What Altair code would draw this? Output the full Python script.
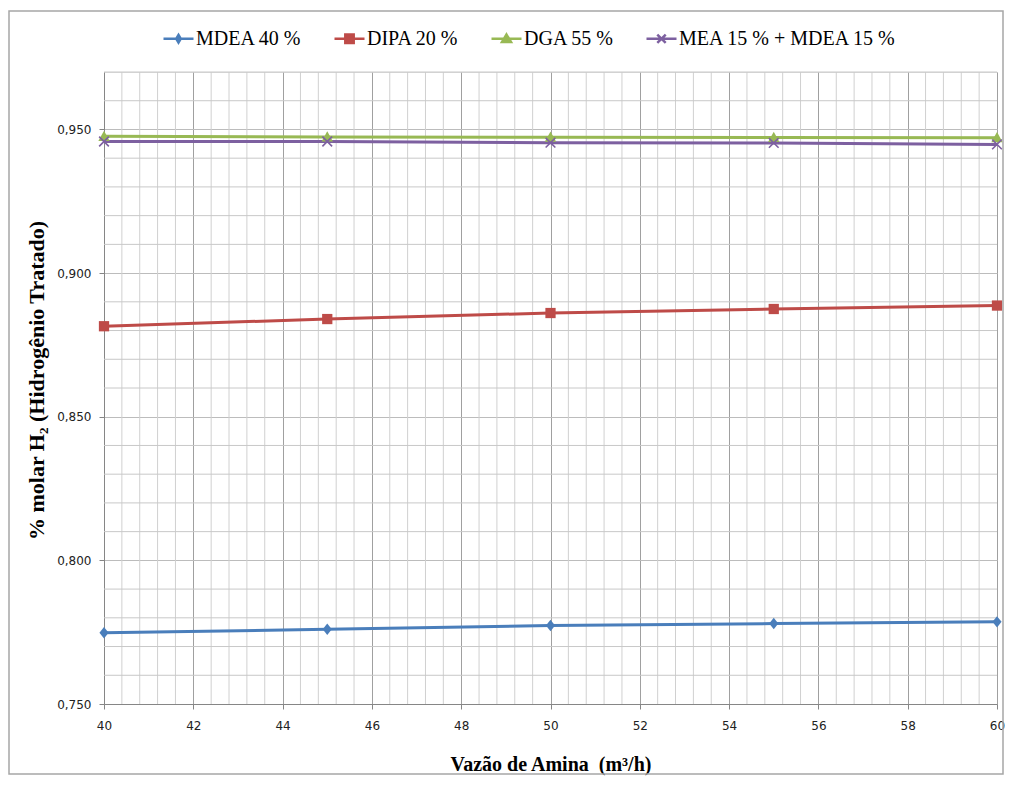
import altair as alt
import pandas as pd

# ---------------- data ----------------
x_vals = [40, 45, 50, 55, 60]
series = ["MDEA 40 %", "DIPA 20 %", "DGA 55 %", "MEA 15 % + MDEA 15 %"]
mdea = [0.7748, 0.7760, 0.7773, 0.7780, 0.7786]
dipa = [0.8815, 0.8840, 0.8861, 0.8875, 0.8887]
dga = [0.9476, 0.9474, 0.9473, 0.9472, 0.9471]
mea = [0.9458, 0.9458, 0.9454, 0.9453, 0.9448]
x_ticks = [40, 42, 44, 46, 48, 50, 52, 54, 56, 58, 60]
y_ticks = [0.75, 0.80, 0.85, 0.90, 0.95]
x_minor = [round(40 + 0.4 * i, 1) for i in range(51) if i % 5 != 0]
y_minor = [round(0.75 + 0.01 * i, 2) for i in range(23) if i % 5 != 0]

# ---------------- styles ----------------
colors = ["#4A7EBB", "#BE4B48", "#98B954", "#7D60A0"]
chart_paths = [
    "M0,-1L0.8,0L0,1L-0.8,0Z",
    "M-0.9,-0.9H0.9V0.9H-0.9Z",
    "M0,-1L1,0.8H-1Z",
    "M-0.85,-0.85L0.85,0.85M-0.85,0.85L0.85,-0.85",
]
legend_paths = [
    "M-1,0H1M0,-0.25L0.15,0L0,0.25L-0.15,0Z",
    "M-1,0H1M-0.28,-0.28H0.28V0.28H-0.28Z",
    "M-1,0H1M0,-0.28L0.3,0.22H-0.3Z",
    "M-1,0H1M-0.28,-0.28L0.28,0.28M-0.28,0.28L0.28,-0.28",
]
SERIF = "Liberation Serif, Times New Roman, serif"

rows = []
for name, vals in zip(series, [mdea, dipa, dga, mea]):
    for xv, yv in zip(x_vals, vals):
        rows.append({"serie": name, "x": xv, "y": yv})
df = pd.DataFrame(rows)

W, H = 893, 632
NB = "\u00a0"

x_axis = alt.Axis(
    values=x_ticks, title="Vazão de Amina" + NB + NB + "(m³/h)",
    titleFont=SERIF, titleFontSize=20, titleFontWeight="bold",
    titleColor="black", titleX=W / 2, titleY=60, titleBaseline="middle",
    titleAlign="center",
    labelFont="DejaVu Sans", labelFontSize=12, labelColor="#222222",
    labelPadding=11, tickSize=5, tickColor="#868686", domainColor="#868686",
    grid=True, gridColor="#a0a0a0", labelFlush=False,
)
y_axis = alt.Axis(
    values=y_ticks, labelExpr="replace(format(datum.value, '.3f'), '.', ',')",
    title="% molar H₂ (Hidrogênio Tratado)",
    titleFont=SERIF, titleFontSize=22, titleFontWeight="bold",
    titleColor="black", titleX=-68, titleY=H / 2 - 8, titleAngle=-90,
    titleBaseline="middle", titleAlign="center",
    labelFont="DejaVu Sans", labelFontSize=12, labelColor="#222222",
    labelPadding=8, tickSize=5, tickColor="#868686", domainColor="#868686",
    grid=True, gridColor="#bcbcbc",
)

X = alt.X("x:Q", scale=alt.Scale(domain=[40, 60], nice=False, zero=False), axis=x_axis)
Y = alt.Y("y:Q", scale=alt.Scale(domain=[0.75, 0.97], nice=False, zero=False), axis=y_axis)

color_scale = alt.Scale(domain=series, range=colors)
leg = alt.Legend(
    title=None, orient="none", legendX=58, legendY=-50, direction="horizontal",
    labelFont=SERIF, labelFontSize=20, labelColor="black",
    labelOffset=1, columnPadding=27, symbolSize=900, symbolStrokeWidth=2.5,
    padding=0, labelLimit=400,
)

# legend-only layer (first, so its legend settings win): no rows pass the filter,
# the legend entries come from the explicit scale domain
legend_layer = alt.Chart(df).transform_filter(alt.datum.x < 0).mark_point(
    filled=True, size=900, strokeWidth=2.5, opacity=1
).encode(
    x=X, y=Y,
    color=alt.Color("serie:N", scale=color_scale, legend=leg),
    stroke=alt.Stroke("serie:N", scale=color_scale, legend=leg),
    shape=alt.Shape("serie:N", scale=alt.Scale(domain=series, range=legend_paths), legend=leg),
)

vgrid = alt.Chart(pd.DataFrame({"x": x_minor})).mark_rule(
    color="#d0d0d0", strokeWidth=1).encode(x=X)
hgrid = alt.Chart(pd.DataFrame({"y": y_minor})).mark_rule(
    color="#c8c8c8", strokeWidth=1).encode(y=Y)

lines = alt.Chart(df).mark_line(strokeWidth=3).encode(
    x=X, y=Y, color=alt.Color("serie:N", scale=color_scale, legend=None),
    detail="serie:N",
)

marker_layers = []
for name, path in zip(series, chart_paths):
    is_x = path.startswith("M-0.85")
    mk = alt.Chart(df).transform_filter(alt.datum.serie == name).mark_point(
        filled=not is_x, size=130, strokeWidth=1.6, opacity=1, shape=path
    ).encode(
        x=X, y=Y, color=alt.Color("serie:N", scale=color_scale, legend=None),
    )
    marker_layers.append(mk)

frame = alt.Chart(alt.Data(values=[{"a": 1}])).mark_rect(
    fill="transparent", stroke="#a6a6a6", strokeWidth=1.5
).encode(
    x=alt.value(-95), x2=alt.value(W + 6), y=alt.value(-61), y2=alt.value(702)
)

chart = alt.layer(legend_layer, vgrid, hgrid, lines, *marker_layers, frame).properties(
    width=W, height=H,
    autosize=alt.AutoSizeParams(type="none"),
    padding={"left": 96, "top": 64, "right": 10, "bottom": 72},
).configure_view(
    stroke="transparent"
).configure_legend(
    labelFont=SERIF, labelFontSize=20, labelColor="black",
    labelOffset=1, columnPadding=27, labelLimit=400,
).configure(background="white")

chart.save("out.html", embed_options={"renderer": "svg", "actions": False})
